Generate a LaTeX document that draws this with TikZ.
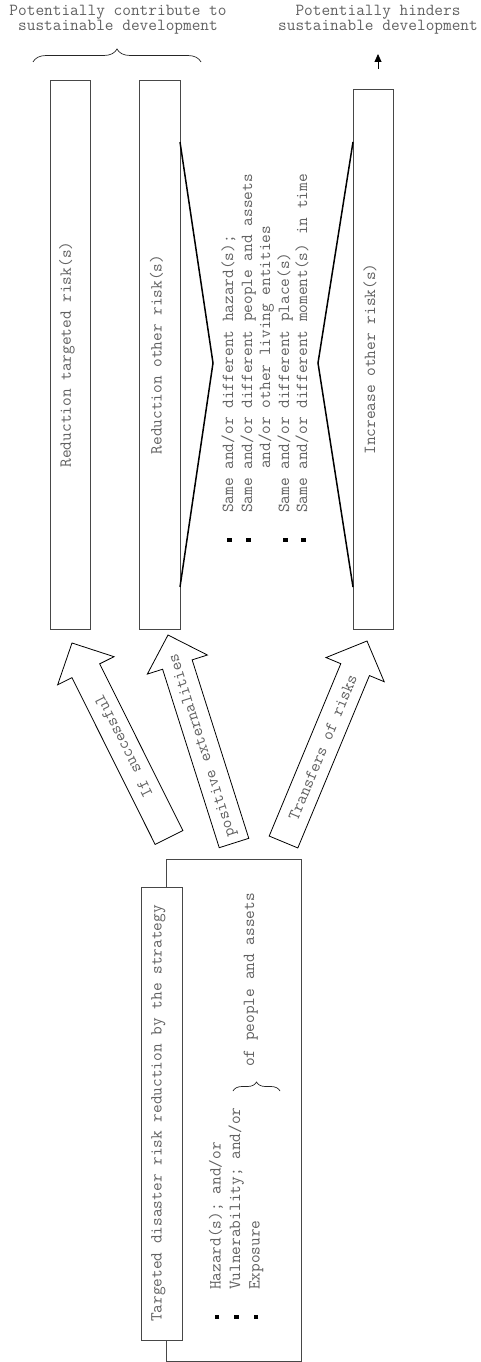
\documentclass[tikz,border=0pt]{standalone}
\usepackage{fontspec}
\usetikzlibrary{calc,decorations.pathreplacing,arrows.meta}
\tikzset{
  txt/.style={font=\ttfamily\fontsize{16.86}{18.6}\selectfont, text=black!62, inner sep=0pt},
  toplbl/.style={font=\ttfamily\fontsize{16.86}{15}\selectfont, text=black!62, inner sep=0pt, align=center},
  rtxt/.style={txt, rotate=90},
  listline/.style={txt, rotate=90, anchor=mid west},
  vbox/.style={draw=black!72, line width=0.9pt, fill=white, inner sep=0pt},
  chev/.style={draw=black, line width=1.5pt, line join=miter},
  blockarrow/.style={draw=black, line width=0.8pt, fill=white, line join=miter},
  bracedeco/.style={draw=black!85, line width=0.7pt, decorate, decoration={brace, amplitude=#1}},
}
\newcommand\sqbul{\textcolor{black}{\raisebox{\dimexpr0.5ex-2.25pt\relax}{\rule{4.5pt}{4.5pt}}}\hspace{24.75pt}}
\newcommand\BlockArrow[4]{%
  \coordinate (#1b) at #2;
  \coordinate (#1t) at #3;
  \coordinate (#1n) at ($(#1t)!31pt!(#1b)$);
  \draw[blockarrow] ($(#1b)!15.5pt!90:(#1t)$) -- ($(#1n)!15.5pt!90:(#1t)$) -- ($(#1n)!31.5pt!90:(#1t)$) -- (#1t) -- ($(#1n)!31.5pt!-90:(#1t)$) -- ($(#1n)!15.5pt!-90:(#1t)$) -- ($(#1b)!15.5pt!-90:(#1t)$) -- cycle;
  \path (#1b) -- node[txt, sloped, allow upside down, pos=0.47] (#1l) {#4} (#1t);
}
\begin{document}
\begin{tikzpicture}[x=1pt,y=-1pt]
\useasboundingbox (0,0) rectangle (480,1362);

% top labels
\node[toplbl] (lblL) at (118,19.4) {Potentially contribute to\\sustainable development};
\node[toplbl] (lblR) at (378,19.4) {Potentially hinders\\sustainable development};
\draw[bracedeco=13pt] (33,62) -- (201,62);
\coordinate (up0) at (378,69);
\coordinate (up1) at (378,54);
\draw[line width=0.8pt, -{Triangle[length=8pt,width=7pt]}] (up0) -- (up1);

% upper boxes
\node[vbox, minimum width=40pt, minimum height=549pt] (b1) at (70,354.5) {};
\node[vbox, minimum width=41pt, minimum height=549pt] (b2) at (159.5,354.5) {};
\node[vbox, minimum width=40pt, minimum height=540pt] (b3) at (373,359) {};
\node[rtxt] (t1) at ($(b1.center)+(-3,0)$) {Reduction targeted risk(s)};
\node[rtxt] (t2) at ($(b2.center)+(-3,0)$) {Reduction other risk(s)};
\node[rtxt] (t3) at ($(b3.center)+(-3,0)$) {Increase other risk(s)};

% chevrons
\coordinate (c1) at (180,142);
\coordinate (c2) at (213,363);
\coordinate (c3) at (180,587);
\coordinate (d1) at (353,142);
\coordinate (d2) at (318,363);
\coordinate (d3) at (353,587);
\draw[chev] (c1) -- (c2) -- (c3);
\draw[chev] (d1) -- (d2) -- (d3);

% list in the middle
\node[listline] (l1) at (231,542.25) {\sqbul Same and/or different hazard(s);};
\node[listline] (l2) at (250,542.25) {\sqbul Same and/or different people and assets};
\node[listline] (l3) at (268,469) {and/or other living entities};
\node[listline] (l4) at (287,542.25) {\sqbul Same and/or different place(s)};
\node[listline] (l5) at (305,542.25) {\sqbul Same and/or different moment(s) in time};

% block arrows
\BlockArrow{a1}{(169,837.5)}{(72,643)}{If successful}
\BlockArrow{a2}{(234,843)}{(168,635)}{positive externalities}
\BlockArrow{a3}{(283.5,842)}{(367,641)}{Transfers of risks}

% bottom boxes
\node[vbox, minimum width=135pt, minimum height=502pt] (outer) at (233.5,1110) {};
\node[vbox, minimum width=41pt, minimum height=453pt] (inner) at (161.5,1113.5) {};
\node[rtxt] (ti) at ($(inner.center)+(-3,0)$) {Targeted disaster risk reduction by the strategy};

\node[listline] (h1) at (218.5,1319.25) {\sqbul Hazard(s); and/or};
\node[listline] (h2) at (238,1319.25) {\sqbul Vulnerability; and/or};
\node[listline] (h3) at (257.5,1319.25) {\sqbul Exposure};
\node[listline] (pa) at (252,1067) {of people and assets};
\draw[bracedeco=9pt] (233,1091) -- (280,1091);
\end{tikzpicture}
\end{document}
